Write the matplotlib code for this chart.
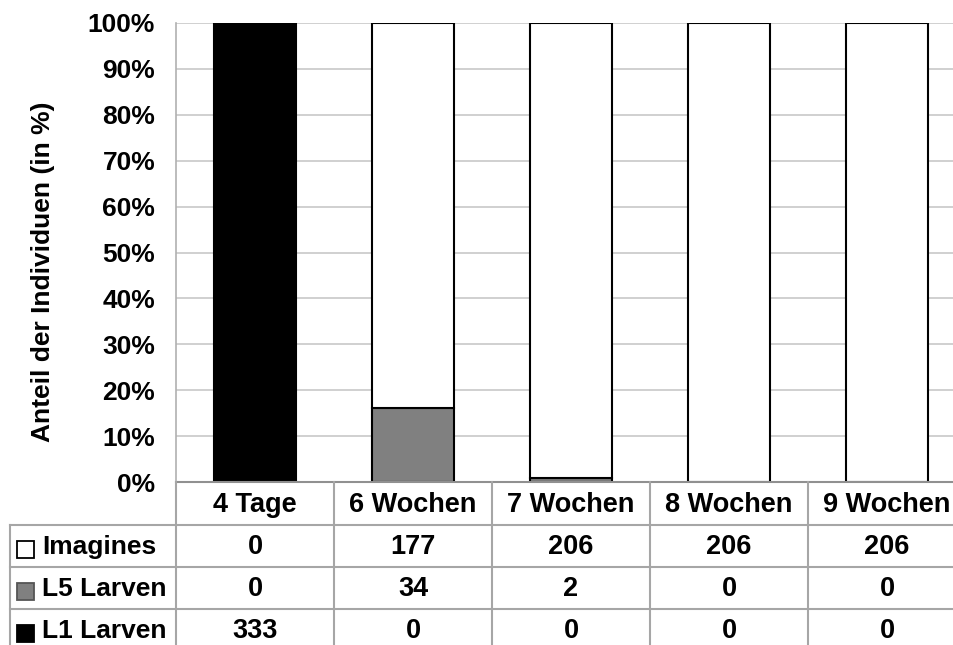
import matplotlib
matplotlib.use("Agg")
import matplotlib.pyplot as plt
import numpy as np
from matplotlib.patches import Rectangle

plt.rcParams['font.family'] = ['Liberation Sans', 'DejaVu Sans']
plt.rcParams['font.weight'] = 'bold'

categories = ["4 Tage", "6 Wochen", "7 Wochen", "8 Wochen", "9 Wochen"]
series_names = ["Imagines", "L5 Larven", "L1 Larven"]
imagines = [0, 177, 206, 206, 206]
l5_larven = [0, 34, 2, 0, 0]
l1_larven = [333, 0, 0, 0, 0]
colors = {"Imagines": "#ffffff", "L5 Larven": "#808080", "L1 Larven": "#000000"}
yticks = [0, 10, 20, 30, 40, 50, 60, 70, 80, 90, 100]
ytick_labels = [f"{v}%" for v in yticks]
ylabel = "Anteil der Individuen (in %)"

W, H = 954, 645
fig = plt.figure(figsize=(W / 100, H / 100), dpi=100)

# plot area in pixels
L, R, T, B = 176, 966, 23, 482
ax = fig.add_axes([L / W, 1 - B / H, (R - L) / W, (B - T) / H])

data = {"L1 Larven": np.array(l1_larven, float),
        "L5 Larven": np.array(l5_larven, float),
        "Imagines": np.array(imagines, float)}
total = sum(data.values())
x = np.arange(len(categories))
bottom = np.zeros(len(categories))
for name in ["L1 Larven", "L5 Larven", "Imagines"]:
    pct = data[name] / total * 100
    ax.bar(x, pct, 0.525, bottom=bottom, color=colors[name], edgecolor="black",
           linewidth=1.5, zorder=3)
    bottom += pct

ax.set_xlim(-0.5, len(categories) - 0.5)
ax.set_ylim(0, 100)
ax.set_yticks(yticks)
ax.set_yticklabels(ytick_labels, fontsize=19, fontweight='bold')
ax.tick_params(axis='y', length=0, pad=15)
ax.set_xticks([])
ax.grid(axis='y', color="#c8c8c8", linewidth=1.2, zorder=0)
for s in ["top", "right", "bottom"]:
    ax.spines[s].set_visible(False)
ax.spines["left"].set_color("#b0b0b0")
ax.spines["left"].set_linewidth(1.2)
fig.text(43 / W, 1 - 272 / H, ylabel, rotation=90, ha="center", va="center",
         fontsize=19, fontweight='bold')

# table overlay in pixel coordinates
ov = fig.add_axes([0, 0, 1, 1], zorder=5)
ov.set_xlim(0, W)
ov.set_ylim(H, 0)
ov.axis("off")
lc = "#a6a6a6"
lw = 1.5
col_w = (R - L) / len(categories)
row_h = 42
hdr_top = B
hdr_bot = 525
ov.plot([L, W], [hdr_top, hdr_top], color="#909090", lw=lw)
ov.plot([10, W], [hdr_bot, hdr_bot], color=lc, lw=lw)
for i in range(1, 3):
    yy = hdr_bot + i * row_h
    ov.plot([10, W], [yy, yy], color=lc, lw=lw)
for j in range(len(categories) + 1):
    xx = L + j * col_w
    ov.plot([xx, xx], [hdr_top, H], color=lc, lw=lw)
ov.plot([10, 10], [hdr_bot, H], color=lc, lw=lw)

fs = 19.5
for j, c in enumerate(categories):
    ov.text(L + (j + 0.5) * col_w, (hdr_top + hdr_bot) / 2 + 2, c, ha="center",
            va="center", fontsize=fs, fontweight='bold')

rows = [("Imagines", imagines), ("L5 Larven", l5_larven), ("L1 Larven", l1_larven)]
edge = {"Imagines": "black", "L5 Larven": "#555555", "L1 Larven": "black"}
for i, (name, vals) in enumerate(rows):
    yc = hdr_bot + (i + 0.5) * row_h
    sq = 17
    ov.add_patch(Rectangle((17, yc - sq / 2 + 3), sq, sq, facecolor=colors[name],
                           edgecolor=edge[name], lw=1.3))
    ov.text(42, yc + 1, name, ha="left", va="center", fontsize=19, fontweight='bold')
    for j, v in enumerate(vals):
        ov.text(L + (j + 0.5) * col_w, yc + 1, str(v), ha="center", va="center",
                fontsize=fs, fontweight='bold')

fig.savefig("out.png", dpi=100)
